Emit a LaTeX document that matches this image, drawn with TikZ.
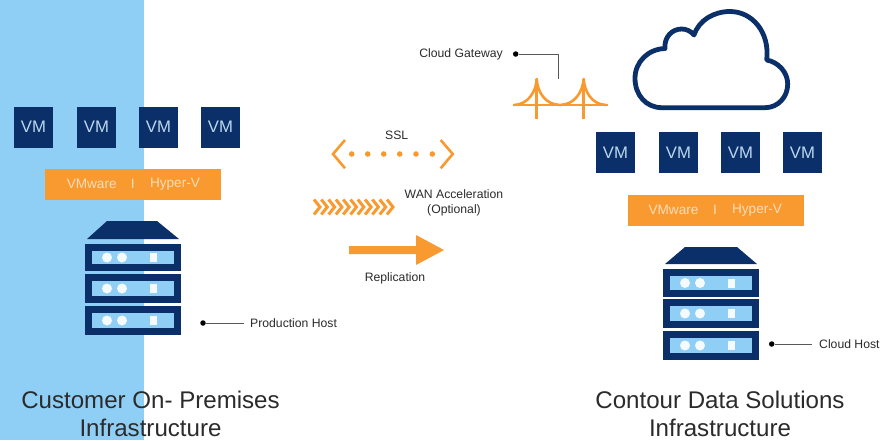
\documentclass[tikz,border=0pt]{standalone}
\usepackage{fontspec}
\setmainfont{Liberation Sans}
\definecolor{navy}{HTML}{0B3069}
\definecolor{sky}{HTML}{90CFF5}
\definecolor{amber}{HTML}{F99A31}
\definecolor{pale}{HTML}{FBDDB8}
\definecolor{vmtxt}{HTML}{BBD6EE}
\definecolor{ink}{HTML}{2B2B2B}
\tikzset{
  vmbox/.style={fill=navy,draw=none,minimum width=39pt,minimum height=41pt,inner sep=0pt,text=vmtxt,font=\fontsize{16.7}{17}\selectfont},
  barbox/.style={fill=amber,draw=none,minimum width=176pt,minimum height=31pt,inner sep=0pt},
  bartxt/.style={text=pale,inner sep=0pt,font=\fontsize{13.6}{14}\selectfont},
  lbl/.style={text=ink,inner sep=0pt,font=\fontsize{12.2}{14}\selectfont},
  title/.style={text=ink,inner sep=0pt,anchor=base,font=\fontsize{24.1}{30}\selectfont},
  leader/.style={draw=black!65,line width=.6pt},
  blob/.style={circle,fill=black,inner sep=0pt,minimum size=5.5pt},
  orange/.style={draw=amber,line width=2.6pt},
  ledr/.style={circle,fill=white!90!sky,inner sep=0pt,minimum size=10pt},
}
\newcommand{\rack}[3]{% x y height
  \fill[navy] (#1,#2) rectangle ++(96,#3);
  \fill[sky] (#1+7,#2+7) rectangle (#1+89,#2+#3-7);
  \node[ledr] at (#1+22,#2+#3/2) {};
  \node[ledr] at (#1+37,#2+#3/2) {};
  \fill[white!90!sky] (#1+65,#2+#3/2-4.5) rectangle ++(7,9);
}
\begin{document}
\begin{tikzpicture}[x=1pt,y=-1pt]
\useasboundingbox (0,0) rectangle (893,440);
\fill[white] (0,0) rectangle (893,440);
\fill[sky] (0,0) rectangle (144,440);
% left VMs
\foreach \n/\x in {a/33.5,b/96.5,c/158.5,d/220.5}
  \node[vmbox] (l\n) at (\x,127) {VM};
\node[barbox] (lbar) at (133,184.5) {};
\node[bartxt] (lbara) at (91.7,184) {VMware};
\node[bartxt] (lbarb) at (132.7,184) {I};
\node[bartxt] (lbarc) at (175,184) {Hyper-V};
% left server
\fill[navy] (107,221) -- (157,221) -- (179,239) -- (87,239) -- cycle;
\rack{85}{244}{27}
\rack{85}{274}{29}
\rack{85}{306}{29}
\node[blob] (phd) at (203,323) {};
\coordinate (phe) at (244,323);
\draw[leader] (phd) -- (phe);
\node[lbl,anchor=west] (ph) at (250,323.5) {Production Host};
% right VMs
\foreach \n/\x in {a/615.5,b/678.5,c/740.5,d/802.5}
  \node[vmbox] (r\n) at (\x,152.5) {VM};
\node[barbox] (rbar) at (715.5,210.5) {};
\node[bartxt] (rbara) at (673.5,210) {VMware};
\node[bartxt] (rbarb) at (715,210) {I};
\node[bartxt] (rbarc) at (757,210) {Hyper-V};
% right server
\fill[navy] (685,247) -- (737,247) -- (757,264) -- (665,264) -- cycle;
\rack{663}{269}{28}
\rack{663}{299}{29}
\rack{663}{331}{29}
\node[blob] (chd) at (771.7,344) {};
\coordinate (che) at (812,344);
\draw[leader] (chd) -- (che);
\node[lbl,anchor=west] (ch) at (819,344.5) {Cloud Host};
% cloud
\draw[navy,line width=4.8pt,line join=round]
  (662,107.7) .. controls (646,107.7) and (635,95) .. (635,78.3)
  .. controls (635,62) and (648,49) .. (665,48.5)
  .. controls (664,37) and (672,29) .. (681.7,29)
  .. controls (686,29) and (691,31) .. (694,35)
  .. controls (699,20) and (714,11.5) .. (730,11.5)
  .. controls (752,11.5) and (770,32) .. (766.7,60)
  .. controls (778,62) and (787.7,72) .. (787.7,84)
  .. controls (787.7,97) and (778,107.7) .. (765,107.7)
  -- cycle;
% bridge
\coordinate (gwa) at (536.7,79);
\coordinate (gwb) at (583.7,79);
\coordinate (gwm) at (560,105);
\draw[orange] (512.7,105) -- (607.7,105);
\draw[orange] (gwa) -- (536.7,119);
\draw[orange] (gwb) -- (583.7,119);
\draw[orange,line join=round] (514,105) .. controls (528,104.5) and (536,92) .. (gwa)
  .. controls (537.5,92) and (545,104.5) .. (gwm)
  .. controls (575,104.5) and (582.5,92) .. (gwb)
  .. controls (584.5,92) and (592,104.5) .. (606,105);
\coordinate (gwt) at (558.3,78.7);
\node[blob] (gwd) at (515.7,54) {};
\draw[leader] (gwd) -| (gwt);
\node[lbl,anchor=east] (gw) at (503,54) {Cloud Gateway};
% SSL
\node[lbl] (ssl) at (396.7,135.5) {SSL};
\draw[orange] (345,140) -- (333,154) -- (345,168.3);
\draw[orange] (440.7,140) -- (452.7,154) -- (440.7,168.3);
\foreach \x in {351.7,367.7,383.7,399.7,416,432.3}
  \fill[amber] (\x,154) circle (2.8);
% WAN
\foreach \i in {0,...,10}
  \draw[amber,line width=3pt] (314+7.3*\i,199.5) -- (320+7.3*\i,207) -- (314+7.3*\i,214.5);
\node[lbl,align=center,font=\fontsize{12.2}{15}\selectfont] (wan) at (454,202.5) {WAN Acceleration\\(Optional)};
% Replication
\fill[amber] (349,246) -- (416,246) -- (416,235) -- (444,250) -- (416,265) -- (416,254) -- (349,254) -- cycle;
\node[lbl] (rep) at (395,278.5) {Replication};
% titles
\node[title] (tla) at (150.5,408) {Customer On- Premises};
\node[title] (tlb) at (150.5,436.5) {Infrastructure};
\node[title] (tra) at (720,408) {Contour Data Solutions};
\node[title] (trb) at (720,436.5) {Infrastructure};
\end{tikzpicture}
\end{document}
